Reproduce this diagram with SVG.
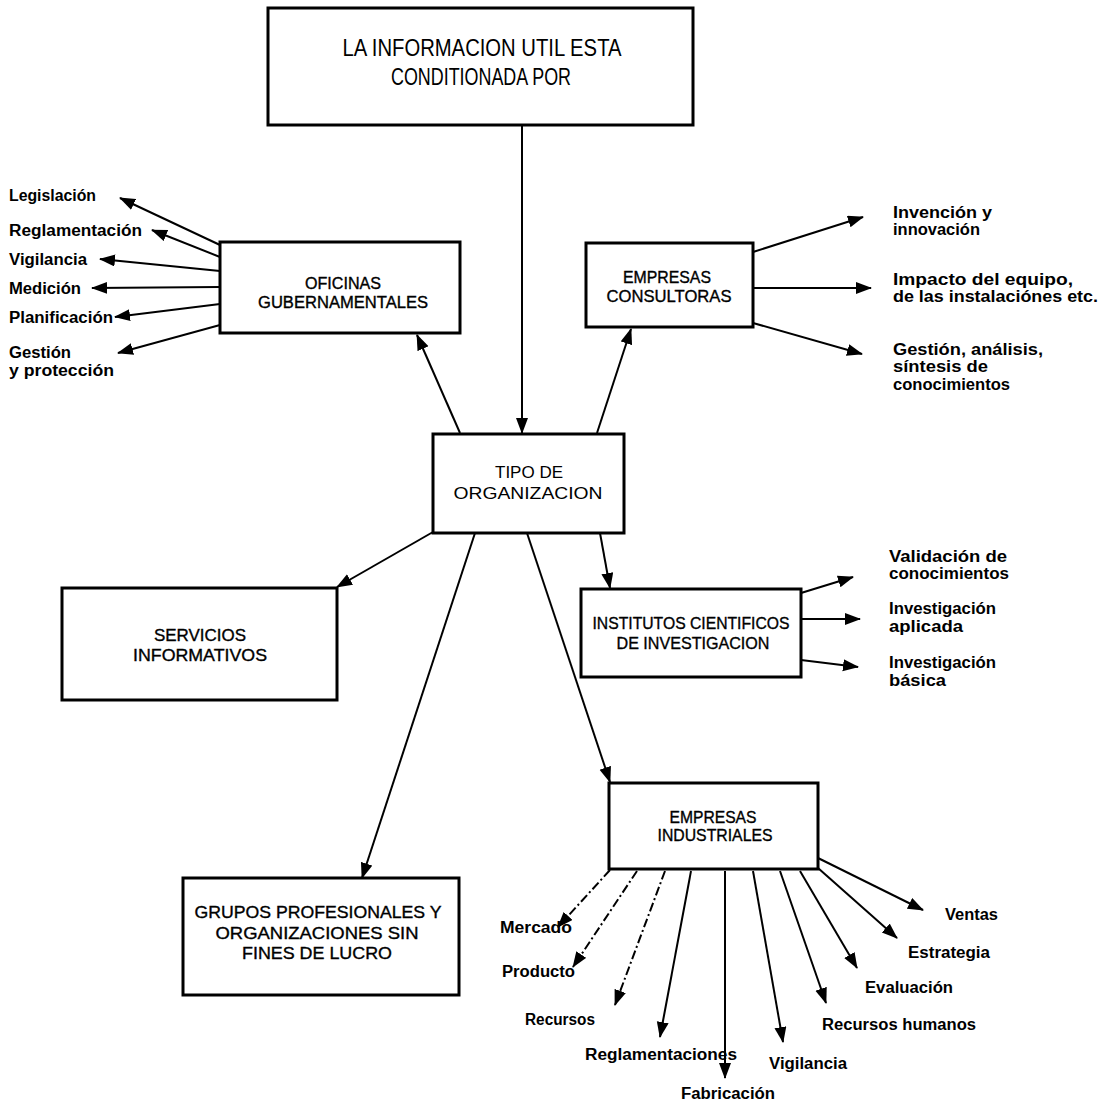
<svg xmlns="http://www.w3.org/2000/svg" width="1101" height="1105" viewBox="0 0 1101 1105">
  <style>
    .box { fill: #fff; stroke: #000; stroke-width: 3; }
    .ln { fill: none; stroke: #000; stroke-width: 2; }
    .dd { stroke-dasharray: 9 3 2 3; }
    .ttl { font-family: "Liberation Sans", Arial, sans-serif; font-size: 24px; fill: #000; text-anchor: middle; }
    .bt { font-family: "Liberation Sans", Arial, sans-serif; font-size: 17px; fill: #000; text-anchor: middle; stroke: #000; stroke-width: 0.35; }
    .bt.thin { stroke-width: 0; }
    .lb { font-family: "Liberation Sans", Arial, sans-serif; font-size: 16px; font-weight: bold; fill: #000; }
  </style>
  <defs>
    <marker id="ah" markerUnits="userSpaceOnUse" markerWidth="17" markerHeight="13" refX="15" refY="6" orient="auto">
      <path d="M0,0 L16,6 L0,12 z" fill="#000"/>
    </marker>
  </defs>
  <rect width="1101" height="1105" fill="#fff"/>

  <!-- connectors -->
  <g id="connectors" marker-end="url(#ah)">
    <!-- main hierarchy -->
    <line class="ln" x1="522" y1="125" x2="522" y2="433"/>
    <line class="ln" x1="460" y1="433" x2="417" y2="335"/>
    <line class="ln" x1="597" y1="433" x2="631" y2="329"/>
    <line class="ln" x1="433" y1="532" x2="337" y2="587"/>
    <line class="ln" x1="475" y1="533" x2="362" y2="878"/>
    <line class="ln" x1="600" y1="533" x2="610" y2="588"/>
    <line class="ln" x1="527" y1="533" x2="610" y2="782"/>
    <!-- oficinas gubernamentales -->
    <line class="ln" x1="220" y1="245" x2="120" y2="198"/>
    <line class="ln" x1="220" y1="257" x2="152" y2="230"/>
    <line class="ln" x1="220" y1="271" x2="100" y2="259"/>
    <line class="ln" x1="220" y1="287" x2="92" y2="288"/>
    <line class="ln" x1="220" y1="304" x2="115" y2="317"/>
    <line class="ln" x1="220" y1="325" x2="118" y2="353"/>
    <!-- empresas consultoras -->
    <line class="ln" x1="753" y1="252" x2="863" y2="217"/>
    <line class="ln" x1="753" y1="288" x2="871" y2="288"/>
    <line class="ln" x1="753" y1="323" x2="862" y2="354"/>
    <!-- institutos -->
    <line class="ln" x1="801" y1="593" x2="853" y2="577"/>
    <line class="ln" x1="801" y1="619" x2="860" y2="619"/>
    <line class="ln" x1="801" y1="660" x2="858" y2="667"/>
    <!-- empresas industriales -->
    <line class="ln dd" x1="610" y1="870" x2="558" y2="927"/>
    <line class="ln dd" x1="637" y1="871" x2="573" y2="967"/>
    <line class="ln dd" x1="665" y1="871" x2="615" y2="1005"/>
    <line class="ln" x1="691" y1="871" x2="660" y2="1037"/>
    <line class="ln" x1="725" y1="871" x2="725" y2="1078"/>
    <line class="ln" x1="753" y1="871" x2="783" y2="1042"/>
    <line class="ln" x1="780" y1="871" x2="826" y2="1003"/>
    <line class="ln" x1="800" y1="871" x2="857" y2="968"/>
    <line class="ln" x1="818" y1="868" x2="897" y2="938"/>
    <line class="ln" x1="818" y1="858" x2="923" y2="910"/>
  </g>

  <!-- nodes -->
  <g id="n-titulo">
    <rect class="box" x="268" y="8" width="425" height="117"/>
    <text class="ttl" x="482" y="56" textLength="279" lengthAdjust="spacingAndGlyphs">LA INFORMACION UTIL ESTA</text>
    <text class="ttl" x="481" y="85" textLength="180" lengthAdjust="spacingAndGlyphs">CONDITIONADA POR</text>
  </g>

  <g id="n-tipo">
    <rect class="box" x="433" y="434" width="191" height="99"/>
    <text class="bt thin" x="529" y="478" textLength="68" lengthAdjust="spacingAndGlyphs">TIPO DE</text>
    <text class="bt thin" x="528" y="499" textLength="149" lengthAdjust="spacingAndGlyphs">ORGANIZACION</text>
  </g>

  <g id="n-oficinas">
    <rect class="box" x="220" y="242" width="240" height="91"/>
    <text class="bt" x="343" y="289" textLength="76" lengthAdjust="spacingAndGlyphs" style="font-size:16px">OFICINAS</text>
    <text class="bt" x="343" y="308" textLength="170" lengthAdjust="spacingAndGlyphs" style="font-size:16px">GUBERNAMENTALES</text>
  </g>
  <g id="l-oficinas">
    <text class="lb" x="9" y="201" textLength="87" lengthAdjust="spacingAndGlyphs">Legislación</text>
    <text class="lb" x="9" y="236" textLength="133" lengthAdjust="spacingAndGlyphs">Reglamentación</text>
    <text class="lb" x="9" y="265" textLength="78" lengthAdjust="spacingAndGlyphs">Vigilancia</text>
    <text class="lb" x="9" y="294" textLength="72" lengthAdjust="spacingAndGlyphs">Medición</text>
    <text class="lb" x="9" y="323" textLength="104" lengthAdjust="spacingAndGlyphs">Planificación</text>
    <text class="lb" x="9" y="358" textLength="62" lengthAdjust="spacingAndGlyphs">Gestión</text>
    <text class="lb" x="9" y="376" textLength="105" lengthAdjust="spacingAndGlyphs">y protección</text>
  </g>

  <g id="n-consultoras">
    <rect class="box" x="586" y="243" width="167" height="84"/>
    <text class="bt" x="667" y="283" textLength="88" lengthAdjust="spacingAndGlyphs">EMPRESAS</text>
    <text class="bt" x="669" y="302" textLength="125" lengthAdjust="spacingAndGlyphs">CONSULTORAS</text>
  </g>
  <g id="l-consultoras">
    <text class="lb" x="893" y="218" textLength="99" lengthAdjust="spacingAndGlyphs">Invención y</text>
    <text class="lb" x="893" y="235" textLength="87" lengthAdjust="spacingAndGlyphs">innovación</text>
    <text class="lb" x="893" y="285" textLength="180" lengthAdjust="spacingAndGlyphs">Impacto del equipo,</text>
    <text class="lb" x="893" y="302" textLength="205" lengthAdjust="spacingAndGlyphs">de las instalaciónes etc.</text>
    <text class="lb" x="893" y="355" textLength="150" lengthAdjust="spacingAndGlyphs">Gestión, análisis,</text>
    <text class="lb" x="893" y="372" textLength="95" lengthAdjust="spacingAndGlyphs">síntesis de</text>
    <text class="lb" x="893" y="390" textLength="117" lengthAdjust="spacingAndGlyphs">conocimientos</text>
  </g>

  <g id="n-servicios">
    <rect class="box" x="62" y="588" width="275" height="112"/>
    <text class="bt" x="200" y="641" textLength="92" lengthAdjust="spacingAndGlyphs">SERVICIOS</text>
    <text class="bt" x="200" y="661" textLength="134" lengthAdjust="spacingAndGlyphs">INFORMATIVOS</text>
  </g>

  <g id="n-institutos">
    <rect class="box" x="581" y="589" width="220" height="88"/>
    <text class="bt" x="691" y="629" textLength="197" lengthAdjust="spacingAndGlyphs">INSTITUTOS CIENTIFICOS</text>
    <text class="bt" x="693" y="649" textLength="153" lengthAdjust="spacingAndGlyphs">DE INVESTIGACION</text>
  </g>
  <g id="l-institutos">
    <text class="lb" x="889" y="562" textLength="118" lengthAdjust="spacingAndGlyphs">Validación de</text>
    <text class="lb" x="889" y="579" textLength="120" lengthAdjust="spacingAndGlyphs">conocimientos</text>
    <text class="lb" x="889" y="614" textLength="107" lengthAdjust="spacingAndGlyphs">Investigación</text>
    <text class="lb" x="889" y="632" textLength="74" lengthAdjust="spacingAndGlyphs">aplicada</text>
    <text class="lb" x="889" y="668" textLength="107" lengthAdjust="spacingAndGlyphs">Investigación</text>
    <text class="lb" x="889" y="686" textLength="57" lengthAdjust="spacingAndGlyphs">básica</text>
  </g>

  <g id="n-grupos">
    <rect class="box" x="183" y="878" width="276" height="117"/>
    <text class="bt" x="318" y="918" textLength="247" lengthAdjust="spacingAndGlyphs">GRUPOS PROFESIONALES Y</text>
    <text class="bt" x="317" y="939" textLength="203" lengthAdjust="spacingAndGlyphs">ORGANIZACIONES SIN</text>
    <text class="bt" x="317" y="959" textLength="150" lengthAdjust="spacingAndGlyphs">FINES DE LUCRO</text>
  </g>

  <g id="n-industriales">
    <rect class="box" x="609" y="783" width="209" height="86"/>
    <text class="bt" x="713" y="823" textLength="87" lengthAdjust="spacingAndGlyphs">EMPRESAS</text>
    <text class="bt" x="715" y="841" textLength="115" lengthAdjust="spacingAndGlyphs">INDUSTRIALES</text>
  </g>
  <g id="l-industriales">
    <text class="lb" x="500" y="933" textLength="72" lengthAdjust="spacingAndGlyphs">Mercado</text>
    <text class="lb" x="502" y="977" textLength="73" lengthAdjust="spacingAndGlyphs">Producto</text>
    <text class="lb" x="525" y="1025" textLength="70" lengthAdjust="spacingAndGlyphs">Recursos</text>
    <text class="lb" x="585" y="1060" textLength="152" lengthAdjust="spacingAndGlyphs">Reglamentaciones</text>
    <text class="lb" x="681" y="1099" textLength="94" lengthAdjust="spacingAndGlyphs">Fabricación</text>
    <text class="lb" x="769" y="1069" textLength="78" lengthAdjust="spacingAndGlyphs">Vigilancia</text>
    <text class="lb" x="822" y="1030" textLength="154" lengthAdjust="spacingAndGlyphs">Recursos humanos</text>
    <text class="lb" x="865" y="993" textLength="88" lengthAdjust="spacingAndGlyphs">Evaluación</text>
    <text class="lb" x="908" y="958" textLength="82" lengthAdjust="spacingAndGlyphs">Estrategia</text>
    <text class="lb" x="945" y="920" textLength="53" lengthAdjust="spacingAndGlyphs">Ventas</text>
  </g>
</svg>
